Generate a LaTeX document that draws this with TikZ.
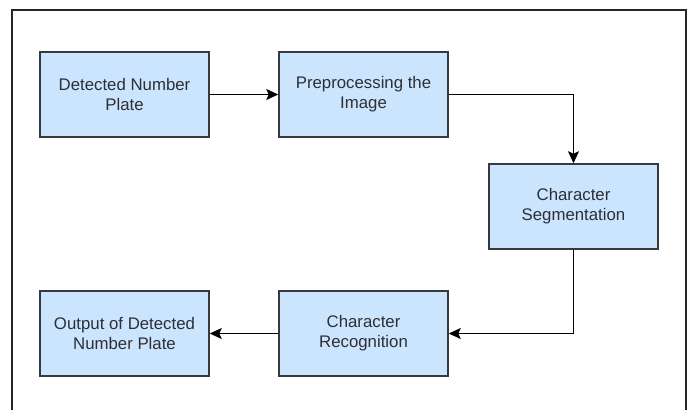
\documentclass[tikz,border=0pt]{standalone}
\usepackage{fontspec}
\setmainfont{Liberation Sans}
\usetikzlibrary{arrows.meta}
\definecolor{boxfill}{HTML}{CCE5FF}
\definecolor{boxline}{HTML}{36393D}
\definecolor{txt}{HTML}{2E2E33}
\tikzset{
  stage/.style={draw=boxline, fill=boxfill, line width=1.5pt,
    minimum width=169pt, minimum height=85pt, inner sep=2pt,
    align=center, text=txt, font=\fontsize{16.8}{20}\selectfont},
  flow/.style={draw=black, line width=1.6pt,
    -{Stealth[length=12pt,width=11pt,inset=2.5pt]}},
}
\begin{document}
\begin{tikzpicture}[x=1pt,y=-1pt]
  \useasboundingbox (0,0) rectangle (691,410);
  % open frame round the chart
  \draw[line width=1.4pt, black!85] (12,410) -- (12,10) -- (686,10) -- (686,410);

  \node[stage] (dnp) at (124.5,94.5)  {Detected Number\\Plate};
  \node[stage] (pre) at (363.5,94.5)  {Preprocessing the\\Image};
  \node[stage] (seg) at (573.5,206.5) {Character\\Segmentation};
  \node[stage] (rec) at (363.5,333.5) {Character\\Recognition};
  \node[stage] (out) at (124.5,333.5) {Output of Detected\\Number Plate};

  \draw[flow] (dnp) -- (pre);
  \draw[flow] (pre.east) -| (seg.north);
  \draw[flow] (seg.south) |- (rec.east);
  \draw[flow] (rec) -- (out);
\end{tikzpicture}
\end{document}
